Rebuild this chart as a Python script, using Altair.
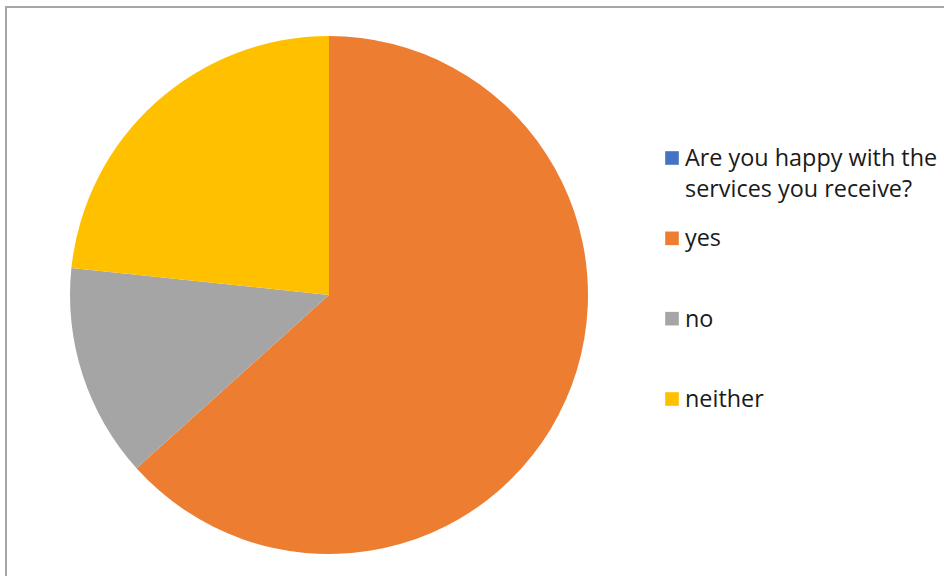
import altair as alt
import pandas as pd

categories = ["Are you happy with the services you receive?", "yes", "no", "neither"]
legend_labels = ["Are you happy with the\nservices you receive?", "yes", "no", "neither"]
values = [0, 19, 4, 7]
colors = ["#4472C4", "#ED7D31", "#A5A5A5", "#FFC000"]

df = pd.DataFrame({
    "category": categories,
    "label": legend_labels,
    "value": values,
    "idx": list(range(len(categories))),
})

color_scale = alt.Scale(domain=categories, range=colors)

pie = alt.Chart(df).mark_arc(radius=259, stroke=None).encode(
    theta=alt.Theta("value:Q", stack=True),
    color=alt.Color("category:N", scale=color_scale, legend=None),
    order=alt.Order("idx:Q"),
    x=alt.value(329),
    y=alt.value(295),
)

leg_y = alt.Y("category:N", sort=categories,
              scale=alt.Scale(range=[158, 399], padding=0), axis=None)

leg_sym = alt.Chart(df).mark_square(size=185, opacity=1).encode(
    x=alt.value(672),
    y=leg_y,
    color=alt.Color("category:N", scale=color_scale, legend=None),
)

leg_txt = alt.Chart(df).mark_text(
    align="left", baseline="alphabetic", dy=8, lineBreak="\n", lineHeight=31,
    font="Open Sans", fontSize=23.4, color="#1a1a1a",
).encode(
    x=alt.value(685),
    y=leg_y,
    text="label:N",
)

frame_df = pd.DataFrame({"k": [0]})
top_rule = alt.Chart(frame_df).mark_rule(color="#A6A6A6", strokeWidth=2).encode(
    x=alt.value(6), x2=alt.value(944), y=alt.value(7)
)
left_rule = alt.Chart(frame_df).mark_rule(color="#A6A6A6", strokeWidth=2).encode(
    x=alt.value(6), y=alt.value(6), y2=alt.value(576)
)

chart = alt.layer(pie, leg_sym, leg_txt, top_rule, left_rule).properties(
    width=944, height=576,
    autosize=alt.AutoSizeParams(type="none"),
    padding=0,
    background="white",
).configure_view(stroke=None)

chart.save("out.html", embed_options={"renderer": "svg", "actions": False})
